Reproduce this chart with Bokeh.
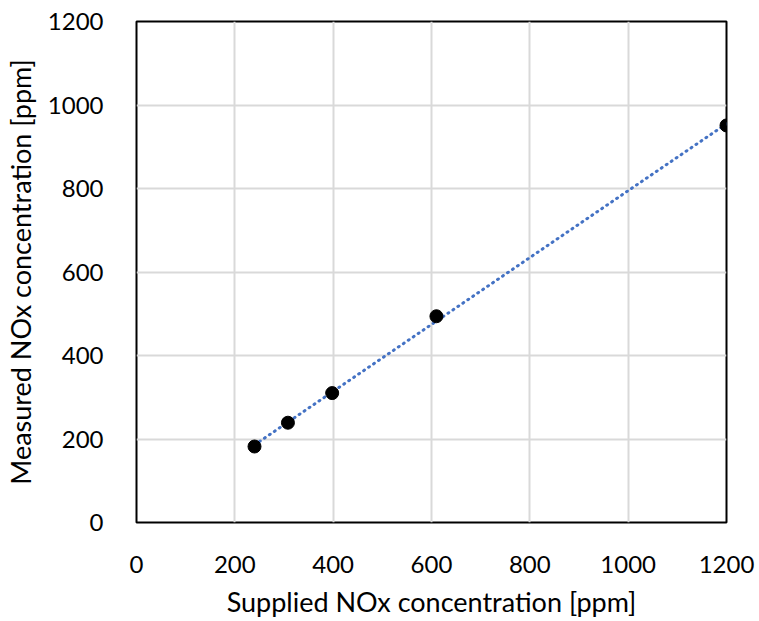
import numpy as np
from bokeh.plotting import figure
from bokeh.models import FixedTicker, Range1d, ColumnDataSource
from bokeh.embed import file_html
from bokeh.resources import INLINE

supplied = [240, 308, 398, 610, 1200]
measured = [182, 239, 310, 494, 951]
ticks = [0, 200, 400, 600, 800, 1000, 1200]

p = figure(width=759, height=621, output_backend="svg", toolbar_location=None,
           x_range=Range1d(0, 1200), y_range=Range1d(0, 1200),
           min_border_left=136, min_border_right=33, min_border_top=21, min_border_bottom=99)
p.background_fill_color = "white"
p.border_fill_color = "white"
p.outline_line_color = "black"
p.outline_line_width = 2

for ax in (p.xaxis, p.yaxis):
    ax.ticker = FixedTicker(ticks=ticks)
    ax.axis_line_color = None
    ax.major_tick_line_color = None
    ax.minor_tick_line_color = None
    ax.major_label_text_font = "Lato"
    ax.major_label_text_font_size = "24px"
    ax.major_label_text_color = "#000000"
    ax.axis_label_text_font = "Lato"
    ax.axis_label_text_font_size = "27px"
    ax.axis_label_text_font_style = "normal"
    ax.axis_label_text_color = "#000000"

p.xaxis.axis_label = "Supplied NOx concentration [ppm]"
p.yaxis.axis_label = "Measured NOx concentration [ppm]"
p.xaxis.major_label_standoff = 27
p.yaxis.major_label_standoff = 27
p.xaxis.axis_label_standoff = 9
p.yaxis.axis_label_standoff = 8

for g in (p.xgrid, p.ygrid):
    g.ticker = FixedTicker(ticks=ticks)
    g.grid_line_color = "#d9d9d9"
    g.grid_line_width = 2

# linear trendline fitted to data
coef = np.polyfit(supplied, measured, 1)
tx = [min(supplied), max(supplied)]
ty = [coef[0] * v + coef[1] for v in tx]
p.line(tx, ty, line_color="#4472C4", line_width=3, line_dash="1 5", line_cap="round")

src = ColumnDataSource(dict(x=supplied, y=measured))
p.scatter("x", "y", source=src, size=13, fill_color="black", line_color="black")

open("out.html", "w").write(file_html(p, INLINE))
